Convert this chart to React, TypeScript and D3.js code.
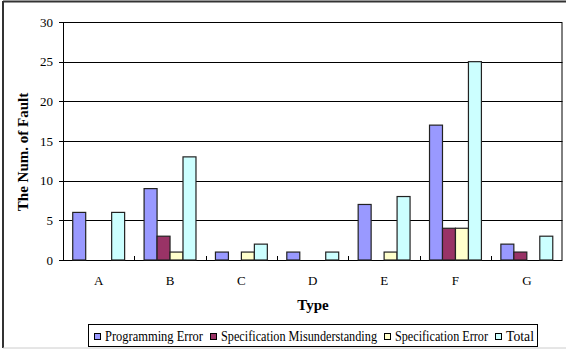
import React from "react";
import * as d3 from "d3";

const categories = ["A", "B", "C", "D", "E", "F", "G"];
const seriesNames = ["Programming Error", "Specification Misunderstanding", "Specification Error", "Total"];
const programmingError = [6, 9, 1, 1, 7, 17, 2];
const specMisunderstanding = [0, 3, 0, 0, 0, 4, 1];
const specError = [0, 1, 1, 0, 1, 4, 0];
const total = [6, 13, 2, 1, 8, 25, 3];
const yTicks = [0, 5, 10, 15, 20, 25, 30];
const colors = ["#9999FF", "#993366", "#FFFFCC", "#CCFFFF"];

const W = 566, H = 350;
const left = 63, right = 562.5, top = 22, bottom = 260;
const FONT = "Liberation Serif, Times New Roman, Times, serif";

export default function App() {
  const seriesValues = [programmingError, specMisunderstanding, specError, total];
  const x0 = d3.scaleBand<string>().domain(categories).range([left, right]).padding(0);
  const x1 = d3.scaleBand<string>().domain(seriesNames).range([0, x0.bandwidth()]).paddingInner(0).paddingOuter(0.75);
  const y = d3.scaleLinear().domain([0, 30]).range([bottom, top]);

  const legendItems = [
    { name: seriesNames[0], x: 94, w: 98 },
    { name: seriesNames[1], x: 210, w: 156 },
    { name: seriesNames[2], x: 384, w: 93 },
    { name: seriesNames[3], x: 495, w: 28 },
  ];

  return (
    <svg width={W} height={H} style={{ position: "absolute", left: 0, top: 0, fontFamily: FONT }}>
      <rect x={0} y={0} width={W} height={H} fill="#fff" />
      {/* outer frame */}
      <line x1={3} y1={1.5} x2={W} y2={1.5} stroke="#333" strokeWidth={2} />
      <line x1={3} y1={1} x2={3} y2={348} stroke="#333" strokeWidth={2} />
      <line x1={3} y1={348} x2={W} y2={348} stroke="#ccc" strokeWidth={1} />

      {/* gridlines */}
      {yTicks.slice(1, -1).map((t) => (
        <line key={"g" + t} x1={left} x2={right} y1={Math.round(y(t)) + 0.5} y2={Math.round(y(t)) + 0.5} stroke="#000" strokeWidth={1} />
      ))}
      {/* plot frame */}
      <rect x={left + 0.5} y={top + 0.5} width={right - left - 1} height={bottom - top} fill="none" stroke="#000" strokeWidth={1} />

      {/* bars */}
      {categories.map((c, i) => (
        <g key={c} transform={`translate(${x0(c)},0)`}>
          {seriesNames.map((s, j) => {
            const v = seriesValues[j][i];
            if (v === 0) return null;
            return (
              <rect key={s} x={(x1(s) as number)} y={y(v)} width={x1.bandwidth()} height={bottom - y(v)} fill={colors[j]} stroke="#222" strokeWidth={1.2} />
            );
          })}
        </g>
      ))}

      {/* y ticks and labels */}
      {yTicks.map((t) => (
        <g key={"t" + t}>
          <line x1={left - 4} x2={left} y1={Math.round(y(t)) + 0.5} y2={Math.round(y(t)) + 0.5} stroke="#000" />
          <text x={53} y={y(t)} dy="0.35em" textAnchor="end" fontSize={13} style={{ fontFamily: FONT }}>{t}</text>
        </g>
      ))}
      {/* x ticks */}
      {categories.slice(1).map((c) => (
        <line key={"xt" + c} x1={Math.round(x0(c) as number) + 0.5} x2={Math.round(x0(c) as number) + 0.5} y1={bottom - 4} y2={bottom} stroke="#000" />
      ))}
      {categories.map((c) => (
        <text key={"xl" + c} x={(x0(c) as number) + x0.bandwidth() / 2} y={285} textAnchor="middle" fontSize={13} style={{ fontFamily: FONT }}>{c}</text>
      ))}

      {/* axis titles */}
      <text x={313} y={310} textAnchor="middle" fontSize={15} fontWeight="bold" style={{ fontFamily: FONT }}>Type</text>
      <text transform={`translate(28,152) rotate(-90)`} textAnchor="middle" fontSize={15} fontWeight="bold" style={{ fontFamily: FONT }}>The Num. of Fault</text>

      {/* legend */}
      <rect x={88.5} y={324.5} width={449} height={22} fill="#fff" stroke="#000" strokeWidth={1} />
      {legendItems.map((it, k) => (
        <g key={it.name}>
          <rect x={it.x + 0.5} y={333.5} width={6} height={6} fill={colors[k]} stroke="#000" strokeWidth={1} />
          <text x={it.x + 11} y={341} fontSize={14} textLength={it.w} lengthAdjust="spacingAndGlyphs" style={{ fontFamily: FONT }}>{it.name}</text>
        </g>
      ))}
    </svg>
  );
}
